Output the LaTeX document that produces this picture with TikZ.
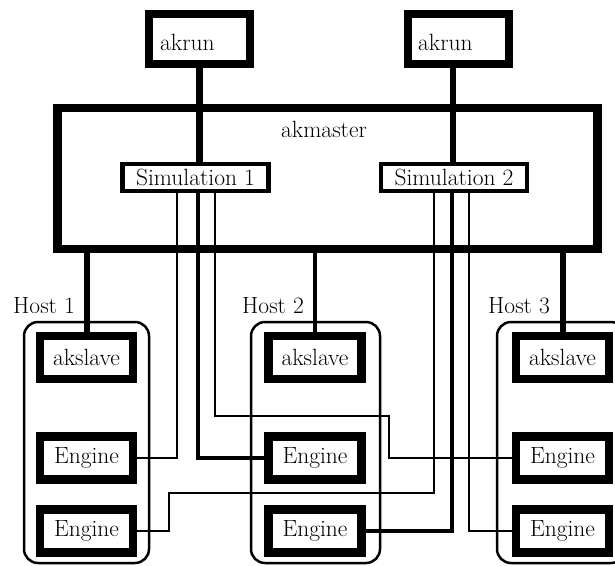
\documentclass[tikz,border=0pt]{standalone}
\usepackage{fontspec}
\usetikzlibrary{calc}
\begin{document}
\begin{tikzpicture}[x=1pt,y=-1pt,
  txt/.style={font=\fontsize{23.5}{28}\selectfont, inner sep=0pt},
  runbox/.style={draw, line width=8pt, fill=white, minimum width=101pt, minimum height=50pt, inner sep=0pt},
  masterbox/.style={draw, line width=8.5pt, minimum width=540pt, minimum height=141pt, inner sep=0pt},
  simbox/.style={draw, line width=4.5pt, fill=white, minimum width=146pt, minimum height=27pt, inner sep=0pt, font=\fontsize{23.5}{28}\selectfont},
  procbox/.style={draw, line width=8.5pt, fill=white, minimum width=93pt, minimum height=43pt, inner sep=0pt, font=\fontsize{23.5}{28}\selectfont},
  hostbox/.style={draw, line width=2.5pt, rounded corners=14pt, inner sep=0pt},
  thinwire/.style={line width=2.3pt},
  midwire/.style={line width=3.5pt},
  thickwire/.style={line width=6.5pt}
]
\useasboundingbox (0,0) rectangle (615,565);

% hosts
\node[hostbox, minimum width=125pt, minimum height=241pt] (h1) at (86.5,442.5) {};
\node[hostbox, minimum width=129pt, minimum height=241pt] (h2) at (315.5,442.5) {};
\node[hostbox, minimum width=128pt, minimum height=241pt] (h3) at (561,442.5) {};
\node[txt, anchor=base west] (h1l) at (13,313) {Host 1};
\node[txt, anchor=base west] (h2l) at (242,313) {Host 2};
\node[txt, anchor=base west] (h3l) at (488,313) {Host 3};

% master
\node[masterbox] (master) at (327.5,178.5) {};
\node[txt, anchor=base] (masterl) at (324,137) {akmaster};

% run boxes
\node[runbox] (r1) at (199.5,39) {};
\node[runbox] (r2) at (458.5,39) {};
\node[txt, anchor=base west] (r1l) at (160,50) {akrun};
\node[txt, anchor=base west] (r2l) at (418,50) {akrun};

% sim boxes (coordinates only for wires)
\coordinate (sim1c) at (195.5,177.5);
\coordinate (sim2c) at (454,177.5);
\node[simbox] (sim1) at (sim1c) {Simulation 1};
\node[simbox] (sim2) at (sim2c) {Simulation 2};

% slave / engine boxes
\node[procbox] (s1) at (86.5,357.5) {akslave};
\node[procbox] (s2) at (315,357.5) {akslave};
\node[procbox] (s3) at (562.5,357.5) {akslave};
\node[procbox] (e11) at (86.5,458) {Engine};
\node[procbox] (e21) at (315,458) {Engine};
\node[procbox] (e31) at (562.5,458) {Engine};
\node[procbox] (e12) at (86.5,531) {Engine};
\node[procbox] (e22) at (315,531) {Engine};
\node[procbox] (e32) at (562.5,531) {Engine};

% wires
\begin{scope}[on background layer/.style={}]
\draw[thickwire] (r1.south) -- (r1.south |- sim1.north);
\draw[thickwire] ($(r2.south)+(-5.5,0)$) -- ($(r2.south |- sim2.north)+(-5.5,0)$);
\draw[line width=6pt] (master.south -| s1.north) -- (s1.north);
\draw[line width=3.5pt] (master.south -| s2.north) -- (s2.north);
\draw[line width=6pt] (master.south -| s3.north) -- (s3.north);
\draw[thinwire] ($(sim1.south)+(-18.5,0)$) |- (e11.east);
\draw[midwire] ($(sim1.south)+(2.5,0)$) |- (e21.west);
\draw[thinwire] ($(sim1.south)+(19.5,0)$) |- (389,416) |- (e31.west);
\draw[thinwire] ($(sim2.south)+(-20,0)$) |- (169,493) |- (e12.east);
\draw[midwire] ($(sim2.south)+(-2,0)$) |- (e22.east);
\draw[thinwire] ($(sim2.south)+(15,0)$) |- (e32.west);
\end{scope}
\end{tikzpicture}
\end{document}
